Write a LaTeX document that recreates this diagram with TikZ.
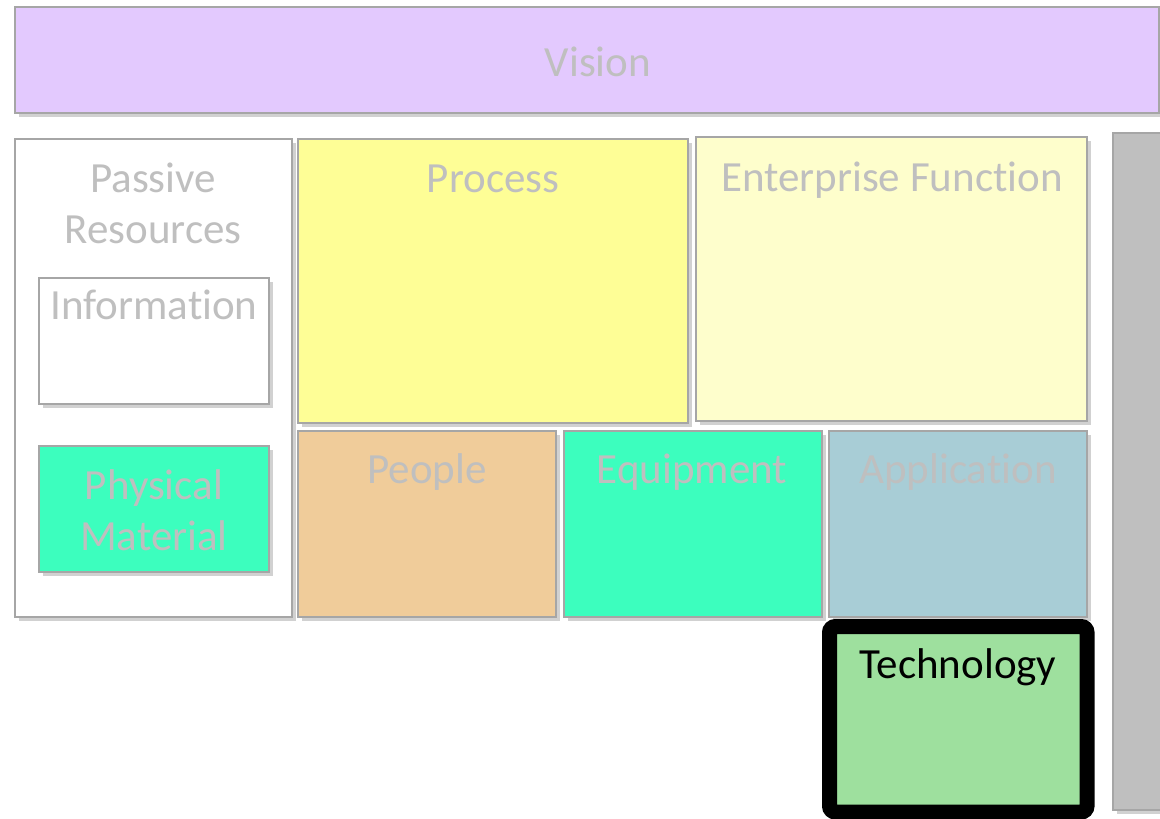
\documentclass[tikz,border=0pt]{standalone}
\usepackage{fontspec}
\setmainfont{Carlito}[Ligatures={NoCommon,NoContextual}]
\usetikzlibrary{shadows}
\definecolor{vis}{HTML}{E3C9FE}
\definecolor{proc}{HTML}{FEFE96}
\definecolor{ent}{HTML}{FEFECC}
\definecolor{peop}{HTML}{F0CC9A}
\definecolor{equip}{HTML}{3CFEBE}
\definecolor{appl}{HTML}{A8CDD6}
\definecolor{tech}{HTML}{9EE09E}
\definecolor{edge}{HTML}{A6A6A6}
\definecolor{lbl}{HTML}{BFBFBF}
\definecolor{side}{HTML}{BFBFBF}
\begin{document}
\begin{tikzpicture}[x=1pt,y=-1pt,
  box/.style={draw=edge,line width=1.5pt,
    drop shadow={shadow xshift=4pt,shadow yshift=-4pt,fill=black!40,opacity=0.45}},
  txt/.style={anchor=base,text=lbl,font=\fontsize{43}{52}\selectfont,inner sep=0pt},
]
\useasboundingbox (0,0) rectangle (1160,819);
% boxes
\draw[box,fill=vis] (15,7) rectangle (1159,113);
\draw[box,fill=white] (15,139) rectangle (292,617);
\draw[box,fill=white] (39,278) rectangle (269,404);
\draw[box,fill=equip] (39,446) rectangle (269,572);
\draw[box,fill=proc] (298,139) rectangle (688,423);
\draw[box,fill=ent] (696,137) rectangle (1087,421);
\draw[box,fill=peop] (298,431) rectangle (556,617);
\draw[box,fill=equip] (564,431) rectangle (822,617);
\draw[box,fill=appl] (829,431) rectangle (1087,617);
\draw[box,fill=side] (1113,133) rectangle (1175,810);
\draw[line width=15pt,rounded corners=6pt,fill=tech,
  drop shadow={shadow xshift=4pt,shadow yshift=-4pt,fill=black!40,opacity=0.45}]
  (829.5,626.5) rectangle (1087,812);
% labels
\node[txt] (vision) at (598,76) {Vision};
\node[txt] (passive) at (153,192) {Passive};
\node[txt] (resources) at (153,243) {Resources};
\node[txt] (info) at (154,319) {Information};
\node[txt] (phys) at (154,499) {Physical};
\node[txt] (mat) at (154,550) {Material};
\node[txt] (process) at (493,192) {Process};
\node[txt] (enterprise) at (892,191) {Enterprise Function};
\node[txt] (people) at (427,483) {People};
\node[txt] (equipment) at (692,483) {Equipment};
\node[txt] (application) at (958,483) {Application};
\node[txt,text=black] (technology) at (958,678) {Technology};
\end{tikzpicture}
\end{document}
